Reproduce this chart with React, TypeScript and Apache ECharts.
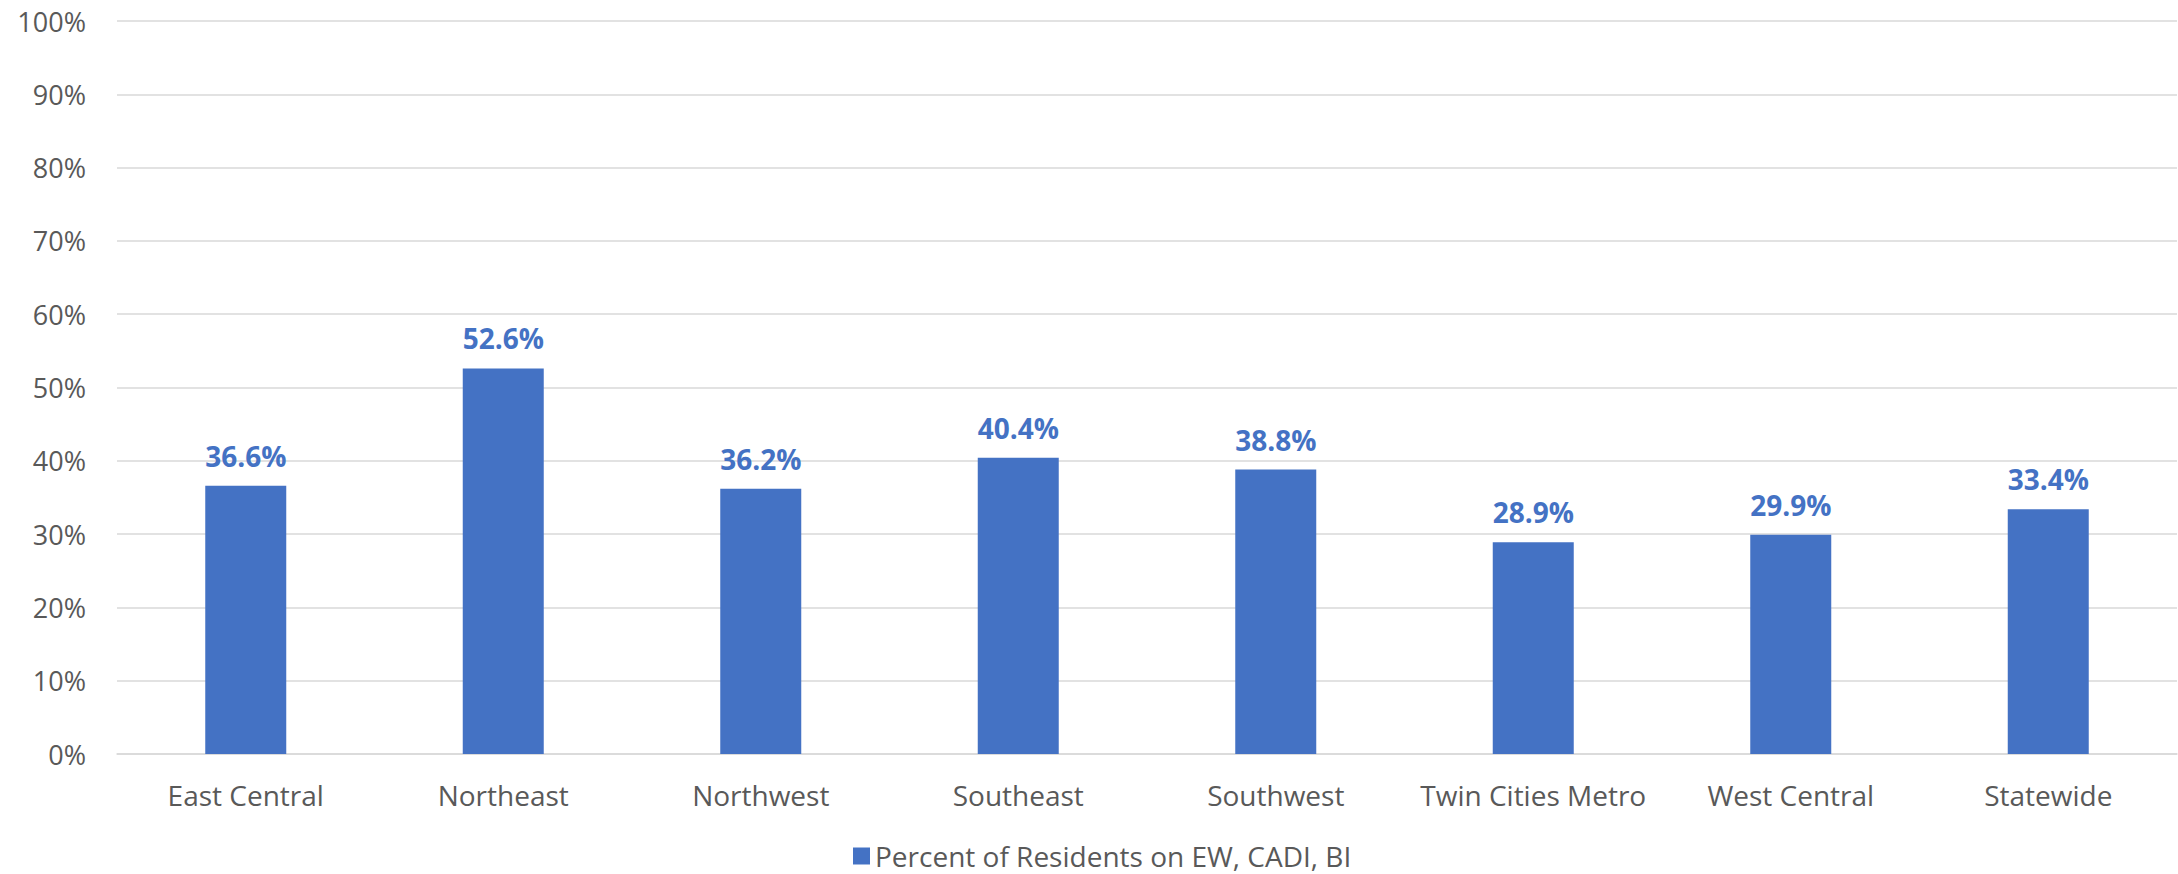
import React, { useEffect, useRef } from "react";
import * as echarts from "echarts";

const categories = [
  "East Central",
  "Northeast",
  "Northwest",
  "Southeast",
  "Southwest",
  "Twin Cities Metro",
  "West Central",
  "Statewide",
];
const values = [36.6, 52.6, 36.2, 40.4, 38.8, 28.9, 29.9, 33.4];
const seriesName = "Percent of Residents on EW, CADI, BI";
const yMin = 0;
const yMax = 100;
const yInterval = 10;

const BLUE = "#4472C4";
const GREY = "#595959";
const FONT = "'Open Sans', 'Noto Sans', sans-serif";

export default function App() {
  const ref = useRef<HTMLDivElement>(null);
  useEffect(() => {
    if (!ref.current) return;
    const chart = echarts.init(ref.current, undefined, { renderer: "svg" });
    chart.setOption({
      animation: false,
      backgroundColor: "#ffffff",
      grid: { left: 117, right: 1, top: 21, bottom: 120, containLabel: false },
      legend: {
        data: [seriesName],
        left: 853,
        top: 842,
        icon: "rect",
        itemWidth: 17,
        itemHeight: 17,
        itemGap: 8,
        padding: 0,
        textStyle: { color: GREY, fontSize: 28, lineHeight: 28, fontFamily: FONT },
      },
      xAxis: {
        type: "category",
        data: categories,
        axisLine: { show: true, lineStyle: { color: "#d9d9d9", width: 1.5 } },
        axisTick: { show: false },
        axisLabel: { color: GREY, fontSize: 28, fontFamily: FONT, margin: 27, interval: 0 },
      },
      yAxis: {
        type: "value",
        min: yMin,
        max: yMax,
        interval: yInterval,
        axisLine: { show: false },
        axisTick: { show: false },
        splitLine: { lineStyle: { color: "#d9d9d9", width: 1.5 } },
        axisLabel: {
          color: GREY,
          fontSize: 27,
          fontFamily: FONT,
          margin: 31,
          formatter: (v: number) => `${v}%`,
        },
      },
      series: [
        {
          name: seriesName,
          type: "bar",
          data: values,
          barWidth: 81,
          itemStyle: { color: BLUE },
          label: {
            show: true,
            position: "top",
            distance: 16,
            color: BLUE,
            fontSize: 28,
            fontWeight: "bold",
            fontFamily: FONT,
            formatter: (p: any) => `${p.value.toFixed(1)}%`,
          },
        },
      ],
    });
    return () => chart.dispose();
  }, []);
  return (
    <div
      ref={ref}
      style={{ position: "fixed", left: 0, top: 0, width: 2178, height: 874, background: "#fff" }}
    />
  );
}
